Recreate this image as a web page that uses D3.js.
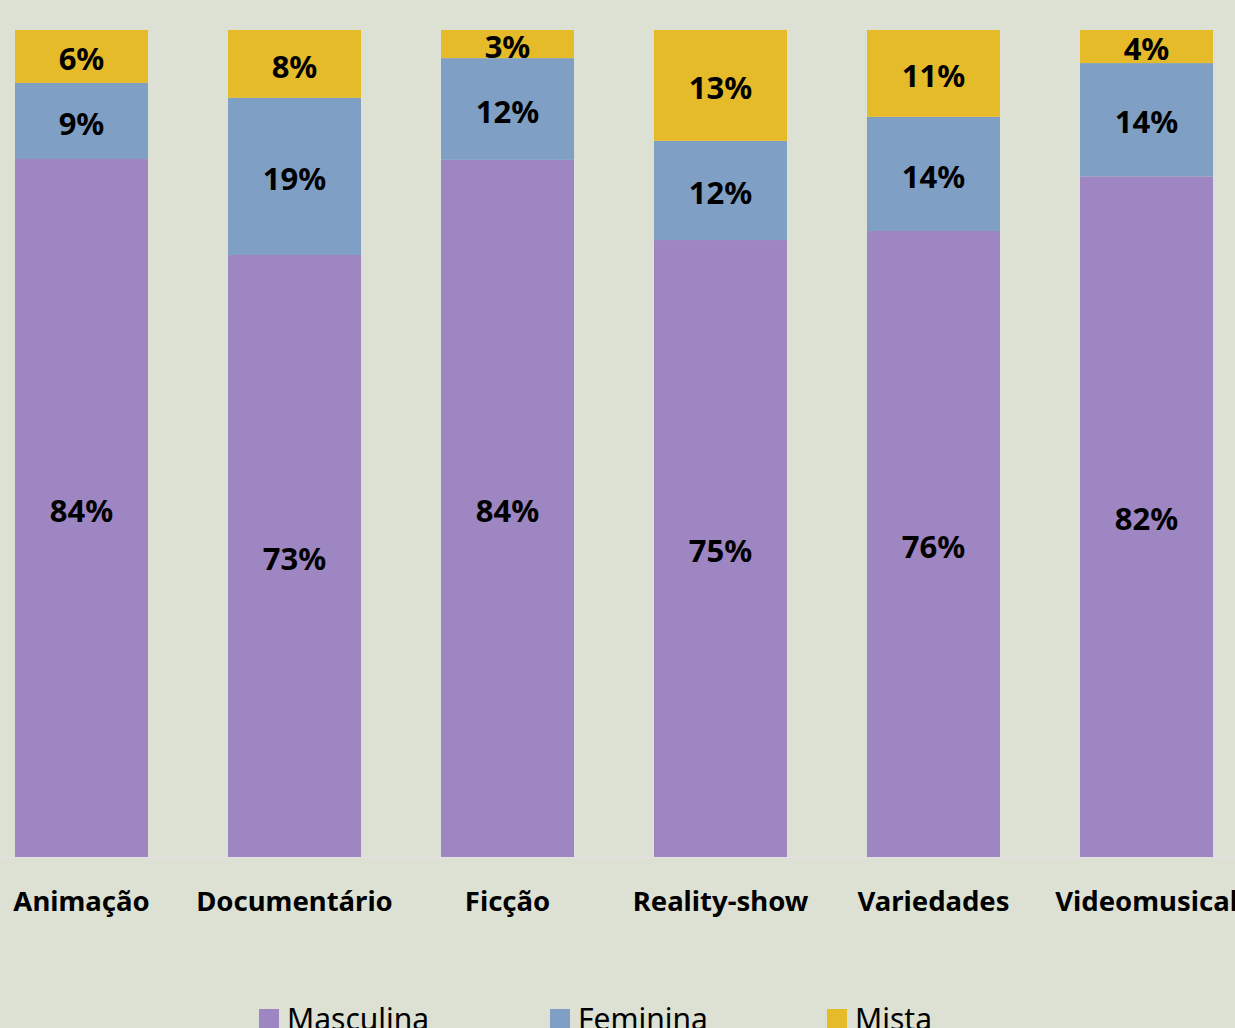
<!DOCTYPE html>
<html>
<head>
<meta charset="utf-8">
<script src="https://cdn.jsdelivr.net/npm/d3@7"></script>
<style>
  body { margin:0; background:#dce1d4; }
  svg { display:block; font-family:"Noto Sans", "Open Sans", sans-serif; }
</style>
</head>
<body>
<svg id="chart"></svg>
<script>
var categories = ["Animação", "Documentário", "Ficção", "Reality-show", "Variedades", "Videomusical"];
var seriesNames = ["Masculina", "Feminina", "Mista"];
var masculina = [84.4, 72.8, 84.3, 74.6, 75.7, 82.3];
var feminina  = [9.2, 19.0, 12.3, 12.0, 13.8, 13.7];
var mista     = [6.4, 8.2, 3.4, 13.4, 10.5, 4.0];
var labels = {
  Masculina: ["84%", "73%", "84%", "75%", "76%", "82%"],
  Feminina:  ["9%", "19%", "12%", "12%", "14%", "14%"],
  Mista:     ["6%", "8%", "3%", "13%", "11%", "4%"]
};
var colors = ["#9e86c2", "#7f9fc4", "#e6bb2a"];

var W = 1235, H = 1028;
var svg = d3.select('#chart').attr('width', W).attr('height', H);

var rows = categories.map(function(c, i){
  return {cat: c, Masculina: masculina[i], Feminina: feminina[i], Mista: mista[i]};
});
var stack = d3.stack().keys(seriesNames).offset(d3.stackOffsetExpand);
var series = stack(rows);

var x = d3.scaleBand().domain(categories).range([15, 1213]).paddingInner(0.3756).paddingOuter(0);
var y = d3.scaleLinear().domain([0, 1]).range([857, 30]);

var color = d3.scaleOrdinal().domain(seriesNames).range(colors);

// baseline
svg.append('line')
   .attr('x1', 0).attr('x2', W)
   .attr('y1', 857.5).attr('y2', 857.5)
   .attr('stroke', '#e4e0e4').attr('stroke-width', 1.5);

var groups = svg.selectAll('g.series').data(series).enter().append('g')
   .attr('class', 'series')
   .attr('fill', function(d){ return color(d.key); });

groups.selectAll('rect').data(function(d){ return d; }).enter().append('rect')
   .attr('x', function(d){ return x(d.data.cat); })
   .attr('y', function(d){ return y(d[1]); })
   .attr('width', x.bandwidth())
   .attr('height', function(d){ return y(d[0]) - y(d[1]); });

// segment labels
series.forEach(function(s){
  svg.append('g').selectAll('text').data(s).enter().append('text')
     .attr('x', function(d){ return x(d.data.cat) + x.bandwidth()/2; })
     .attr('y', function(d){ return (y(d[0]) + y(d[1]))/2; })
     .attr('dy', '0.44em')
     .attr('text-anchor', 'middle')
     .attr('font-size', 31)
     .attr('font-weight', 'bold')
     .attr('fill', '#000')
     .text(function(d, i){ return labels[s.key][i]; });
});

// category axis
var xAxis = svg.append('g')
   .attr('transform', 'translate(0,857)')
   .call(d3.axisBottom(x).tickSize(0).tickPadding(0));
xAxis.select('.domain').remove();
xAxis.selectAll('text')
   .attr('y', 54)
   .attr('dy', 0)
   .attr('font-size', 27.5)
   .attr('font-weight', 'bold')
   .attr('font-family', '"Noto Sans", sans-serif')
   .attr('fill', '#000');

// legend
var legendX = [259, 550, 827];
var legend = svg.append('g').selectAll('g').data(seriesNames).enter().append('g')
   .attr('transform', function(d, i){ return 'translate(' + legendX[i] + ',1009)'; });
legend.append('rect')
   .attr('width', 20).attr('height', 20)
   .attr('fill', function(d){ return color(d); });
legend.append('text')
   .attr('x', 28).attr('y', 21)
   .attr('font-size', 30)
   .attr('fill', '#000')
   .text(function(d){ return d; });
</script>
</body>
</html>
